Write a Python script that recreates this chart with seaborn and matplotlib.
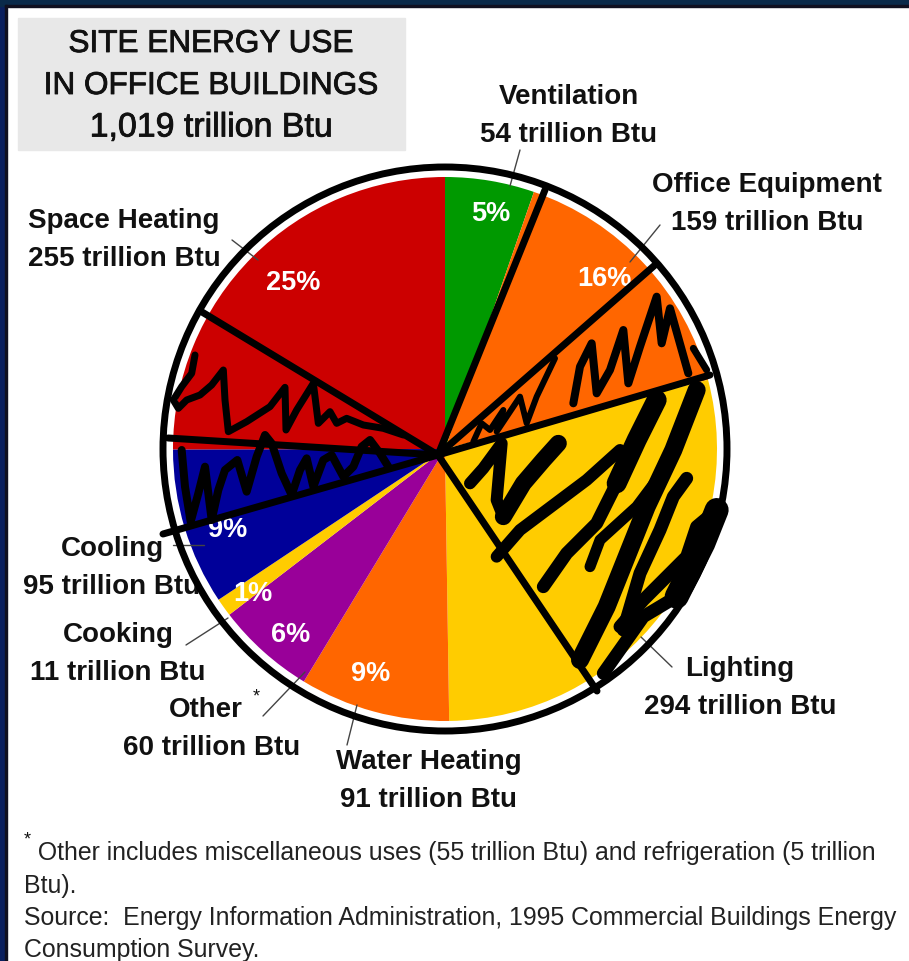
import matplotlib
matplotlib.use("Agg")
import matplotlib.pyplot as plt
import matplotlib.patheffects as pe
from matplotlib.patches import Rectangle, Circle
import seaborn as sns

# Site energy use by end use, trillion Btu, clockwise from twelve o'clock
end_uses = ["Ventilation", "Office Equipment", "Lighting", "Water Heating",
            "Other", "Cooking", "Cooling", "Space Heating"]
energy_use = [54, 159, 294, 91, 60, 11, 95, 255]
wedge_colors = ["#009900", "#FF6600", "#FFCC00", "#FF6600",
                "#990099", "#FFCC00", "#000099", "#CC0000"]
percent_labels = ["5%", "16%", "", "9%", "6%", "1%", "9%", "25%"]

sns.set_theme(style="white")
plt.rcParams["font.family"] = ["Liberation Sans", "DejaVu Sans"]

W, H = 909, 961
fig = plt.figure(figsize=(W / 100, H / 100), dpi=100)
ax = fig.add_axes([0, 0, 1, 1])

# Pie in pixel-like axes units: y runs upward, so flip image rows with Y()
def Y(row):
    return H - row

CX, CY, R = 445, Y(449), 272
ax.pie(energy_use, colors=wedge_colors, startangle=90, counterclock=False,
       center=(CX, CY), radius=R, wedgeprops={"linewidth": 0, "zorder": 2})
ax.set_xlim(0, W)
ax.set_ylim(0, H)
ax.set_aspect("auto")
ax.set_axis_off()

# Page frame
fig.patch.set_facecolor("white")
ax.add_patch(Rectangle((0, 0), 6, H, color="#0A1F5E", zorder=1))
ax.add_patch(Rectangle((0, Y(6)), W, 6, color="#0A2A4A", zorder=1))
ax.add_patch(Rectangle((5, 0), 2, Y(5), color="#101020", zorder=1.1))
ax.add_patch(Rectangle((5, Y(7)), W, 2, color="#101020", zorder=1.1))

# Title panel
ax.add_patch(Rectangle((18, Y(150)), 387, 132, color="#E8E8E8", zorder=1.2))
for txt, row, size in [("SITE ENERGY USE", 44, 22.7), ("IN OFFICE BUILDINGS", 86, 22.7),
                       ("1,019 trillion Btu", 128, 24.4)]:
    ax.text(211, Y(row), txt, ha="center", va="center", fontsize=size, color="#111111", zorder=3,
            path_effects=[pe.withStroke(linewidth=0.6, foreground="#111111")])

# Callouts: name and amount, with a thin leader into the wedge
callouts = [
    ("Ventilation\n54 trillion Btu", 569, 116, (520, 150), (510, 186)),
    ("Office Equipment\n159 trillion Btu", 767, 204, (660, 225), (630, 262)),
    ("Lighting\n294 trillion Btu", 740, 688, (672, 667), (641, 637)),
    ("Water Heating\n91 trillion Btu", 429, 781, (347, 745), (357, 705)),
    ("60 trillion Btu", 212, 748, None, None),
    ("Cooking\n11 trillion Btu", 118, 654, (186, 645), (228, 618)),
    ("Cooling\n95 trillion Btu", 112, 568, (173, 545), (204, 545)),
    ("Space Heating\n255 trillion Btu", 124, 240, (232, 240), (258, 260)),
]
for txt, x, row, p0, p1 in callouts:
    ax.text(x, Y(row), txt, ha="center", va="center", fontsize=20, fontweight="bold",
            color="#111111", linespacing=1.6, zorder=3)
    if p0:
        ax.plot([p0[0], p1[0]], [Y(p0[1]), Y(p1[1])], color="#444444", lw=1, zorder=2.5)
ax.text(206, Y(710), "Other", ha="center", va="center", fontsize=20, fontweight="bold",
        color="#111111", zorder=3)
ax.text(256, Y(697), "*", ha="center", va="center", fontsize=13, color="#111111", zorder=3)
ax.plot([263, 305], [Y(716), Y(672)], color="#444444", lw=1, zorder=2.5)

# Percentages inside the wedges
pct_rows = [(491, 214), (604, 279), None, (371, 674), (291, 635), (253, 594), (228, 530), (293, 283)]
for txt, pos in zip(percent_labels, pct_rows):
    if pos:
        ax.text(pos[0], Y(pos[1]), txt, ha="center", va="center", fontsize=19.5,
                fontweight="bold", color="white", zorder=3)

# Footnote
foot = [(" Other includes miscellaneous uses (55 trillion Btu) and refrigeration (5 trillion", 31, 853),
        ("Btu).", 24, 886),
        ("Source:  Energy Information Administration, 1995 Commercial Buildings Energy", 24, 918),
        ("Consumption Survey.", 24, 950)]
for txt, x, row in foot:
    ax.text(x, Y(row), txt, ha="left", va="center", fontsize=17.9, color="#222222", zorder=3)
ax.text(27, Y(840), "*", ha="center", va="center", fontsize=13, color="#111111", zorder=3)

# Hand-drawn overlay: outer ring, division lines and scribbles
ax.add_patch(Circle((CX, Y(449)), 282, fill=False, ec="black", lw=5, zorder=5))

def stroke(points, width):
    ax.plot([p[0] for p in points], [Y(p[1]) for p in points], color="black",
            lw=width * 0.72, solid_capstyle="round", solid_joinstyle="round", zorder=5)

HUB = (438, 455)
for end in [(545, 190), (655, 265), (710, 375), (597, 691), (163, 534), (168, 438), (202, 312)]:
    stroke([HUB, end], 7)

def left_zoom(pts):
    return [(150 + x / 3, 300 + y / 3) for x, y in pts]

def right_zoom(pts):
    return [(440 + x / 3, 280 + y / 3) for x, y in pts]

stroke(left_zoom([(135, 165), (125, 220), (95, 260), (70, 300), (85, 325), (110, 300), (150, 285),
                  (185, 255), (220, 210), (225, 300), (235, 395), (290, 365), (360, 320), (405, 262),
                  (408, 390), (440, 330), (490, 250), (505, 370), (540, 335), (560, 370), (590, 355),
                  (640, 375), (700, 385), (760, 405)]), 7)
stroke(left_zoom([(95, 450), (105, 560), (122, 665), (145, 580), (165, 500), (185, 660), (205, 570),
                  (225, 510), (262, 480), (290, 575), (320, 470), (345, 405), (365, 430), (395, 520),
                  (425, 585), (450, 510), (470, 475), (490, 560), (520, 480), (545, 465), (580, 530),
                  (610, 500), (635, 440), (660, 420), (690, 460), (715, 500)]), 8)
stroke(right_zoom([(100, 485), (125, 430), (150, 450), (190, 390), (170, 455), (240, 350), (260, 430),
                   (290, 350), (345, 235)]), 6)
stroke(right_zoom([(400, 370), (420, 260), (455, 190), (470, 340), (510, 270), (550, 150),
                   (565, 310), (600, 200), (650, 50), (665, 190), (690, 85), (745, 280)]), 8)
stroke(right_zoom([(760, 205), (800, 270)]), 7)
stroke(right_zoom([(90, 610), (130, 565), (185, 490), (170, 660), (190, 710)]), 12)
stroke(right_zoom([(190, 710), (250, 610), (310, 540), (355, 490)]), 17)
stroke(right_zoom([(170, 830), (240, 750), (320, 690), (440, 600), (540, 510)]), 12)
stroke(right_zoom([(650, 360), (590, 480), (530, 610)]), 20)
stroke(right_zoom([(530, 610), (470, 730), (380, 820), (310, 920)]), 13)
stroke(right_zoom([(450, 860), (480, 780), (590, 680), (650, 600), (720, 470), (770, 330)]), 11)
stroke(right_zoom([(770, 330), (700, 510), (620, 680), (560, 830), (500, 980), (420, 1140)]), 18)
stroke(right_zoom([(740, 595), (700, 650), (660, 750), (600, 880), (550, 1050)]), 13)
stroke(right_zoom([(830, 690), (770, 740), (740, 830), (610, 960), (540, 1040)]), 13)
stroke(right_zoom([(830, 690), (790, 790), (710, 950)]), 24)
stroke(right_zoom([(710, 950), (610, 1010), (490, 1180)]), 13)

fig.savefig("out.png", dpi=100, facecolor="white")
